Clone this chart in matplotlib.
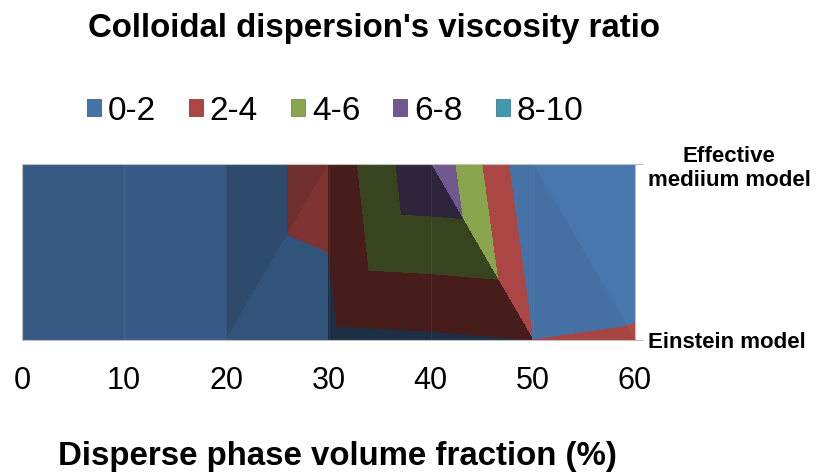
import matplotlib
matplotlib.use("Agg")
import matplotlib.pyplot as plt
import matplotlib.tri as mtri
from matplotlib.patches import Patch
import numpy as np

# ---- data ----
phi = [0, 10, 20, 30, 40, 50, 60]                       # disperse phase volume fraction (%)
einstein = [1.0, 1.1, 1.25, 1.5, 1.7, 2.0, 2.15]          # Einstein model row
effective = [1.0, 1.1, 1.25, 2.5, 7.8, 0.2, 0.6]          # Effective medium model row
band_labels = ["0-2", "2-4", "4-6", "6-8", "8-10"]
band_levels = [0, 2, 4, 6, 8, 10]
row_labels = ["Einstein model", "Effective\nmediium model"]

# ---- style ----
base_colors = ["#4572A7", "#AA4643", "#89A54E", "#71588F", "#4198AF"]
# per column: diagonal direction and shading of its two triangles
diag = ["bltr", "bltr", "bltr", "bltr", "tlbr", "tlbr"]
shade = [(0.79, 0.79), (0.80, 0.80), (0.66, 0.73), (0.41, 0.41), (1.0, 0.41), (1.04, 0.98)]

plt.rcParams['font.family'] = ['Liberation Sans', 'DejaVu Sans']

fig = plt.figure(figsize=(8.17, 4.72), dpi=100)
ax = fig.add_axes([22/817, 1-340/472, (635-22)/817, (340-164)/472])

def shaded(c, f):
    r, g, b = matplotlib.colors.to_rgb(c)
    return (min(r*f, 1), min(g*f, 1), min(b*f, 1))

for i in range(len(phi)-1):
    x0, x1 = phi[i], phi[i+1]
    BL = (x0, 0, einstein[i]); BR = (x1, 0, einstein[i+1])
    TL = (x0, 1, effective[i]); TR = (x1, 1, effective[i+1])
    if diag[i] == "bltr":
        tris = [(TL, TR, BL), (BL, BR, TR)]
    else:
        tris = [(TL, TR, BR), (TL, BL, BR)]
    for tri_pts, f in zip(tris, shade[i]):
        xs = [p[0] for p in tri_pts]
        ys = [p[1] for p in tri_pts]
        zs = [p[2] for p in tri_pts]
        t = mtri.Triangulation(xs, ys, triangles=[[0, 1, 2]])
        cols = [shaded(c, f) for c in base_colors]
        ax.tricontourf(t, zs, levels=band_levels, colors=cols, antialiased=True)
        ax.tricontourf(t, zs, levels=band_levels, colors=cols, antialiased=False)

# faint face edges at column boundaries
for xv in phi[1:-1]:
    ax.axvline(xv, color="white", alpha=0.05, lw=0.8)

ax.set_xlim(phi[0], phi[-1])
ax.set_ylim(0, 1)
ax.set_xticks(phi)
ax.set_xticklabels([str(v) for v in phi], fontsize=22)
ax.tick_params(axis='x', length=0, pad=19)
ax.yaxis.tick_right()
ax.set_yticks([0, 1])
ax.set_yticklabels(row_labels, fontsize=16, fontweight='bold', multialignment='center')
ax.tick_params(axis='y', length=6, color="#bfbfbf", pad=3)
for sp in ax.spines.values():
    sp.set_color("#c0c0c0")
    sp.set_linewidth(0.8)

fig.text(374/817, 1-28/472, "Colloidal dispersion's viscosity ratio", ha='center', va='center',
         fontsize=23.8, fontweight='bold')
fig.text(337/817, 1-456/472, "Disperse phase volume fraction (%)", ha='center', va='center',
         fontsize=23.8, fontweight='bold')

handles = [Patch(facecolor=c, edgecolor=shaded(c, 0.85), lw=0.6) for c in base_colors]
fig.legend(handles, band_labels, loc='center', bbox_to_anchor=(335/817, 1-111/472), ncol=5,
           frameon=False, fontsize=24, handlelength=0.42, handleheight=0.42,
           handletextpad=0.2, columnspacing=1.0, borderaxespad=0)

fig.savefig("out.png", dpi=100)
